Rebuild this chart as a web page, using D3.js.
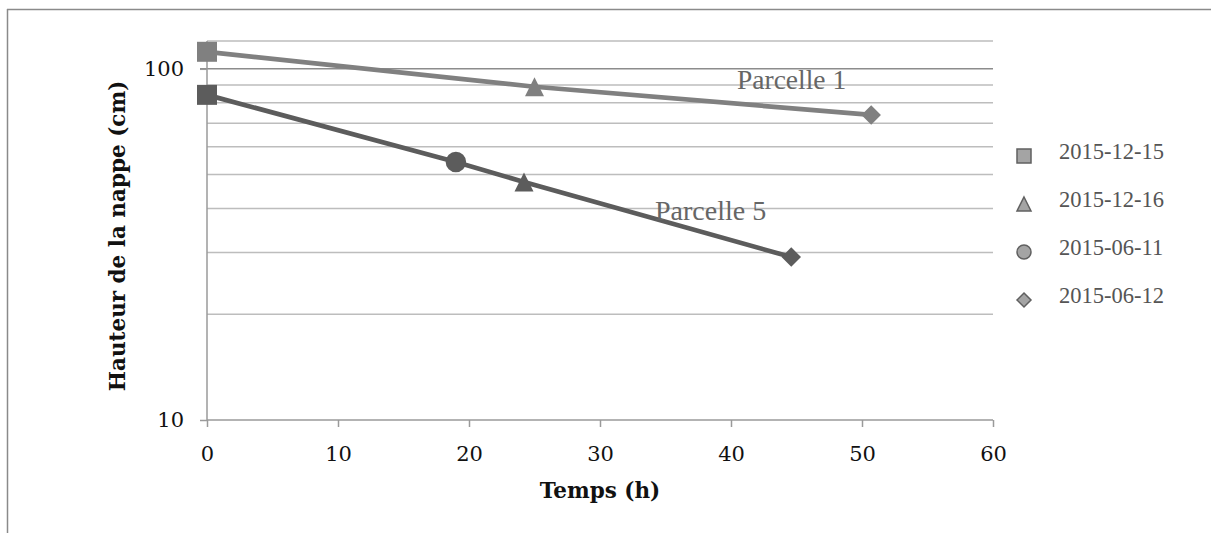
<!DOCTYPE html>
<html>
<head>
<meta charset="utf-8">
<script src="https://cdn.jsdelivr.net/npm/d3@7"></script>
<style>
  html, body { margin: 0; padding: 0; background: #fff; }
  svg { display: block; }
</style>
</head>
<body>
<svg id="chart" width="1211" height="533"></svg>
<script>
// ---- Data ----
const legendDates = ["2015-12-15", "2015-12-16", "2015-06-11", "2015-06-12"];
const legendSymbols = ["square", "triangle", "circle", "diamond"];

const p1Time = [0, 25.0, 50.7];
const p1Height = [111.8, 88.9, 73.9];
const p1Dates = ["2015-12-15", "2015-12-16", "2015-06-12"];

const p5Time = [0, 19.0, 24.2, 44.6];
const p5Height = [84.3, 54.3, 47.6, 29.1];
const p5Dates = ["2015-12-15", "2015-06-11", "2015-12-16", "2015-06-12"];

const xTicks = [0, 10, 20, 30, 40, 50, 60];
const yTickLabels = [10, 100];
const yMinorGrid = [20, 30, 40, 50, 60, 70, 80, 90, 120];
const yMajorGrid = [100];

const seriesNames = ["Parcelle 1", "Parcelle 5"];

// ---- Setup ----
const svg = d3.select("#chart");
const x = d3.scaleLinear().domain([0, 60]).range([207, 993]);
const y = d3.scaleLog().domain([10, 120]).range([420, 41]);

// symbol path builders, each centered on its bounding box
function symbolPath(type, s) {
  if (type === "square") return d3.symbol(d3.symbolSquare, s * s)();
  if (type === "circle") return d3.symbol(d3.symbolCircle, Math.PI * (s / 2) * (s / 2))();
  if (type === "diamond") {
    const h = s / 2;
    return `M0,${-h}L${h},0L0,${h}L${-h},0Z`;
  }
  // triangle, bbox centered
  const h = s, w = s;
  return `M0,${-h / 2}L${w / 2},${h / 2}L${-w / 2},${h / 2}Z`;
}
const markSize = { square: 20, triangle: 19, circle: 20.5, diamond: 19.5 };
const legSize = { square: 14, triangle: 14, circle: 14, diamond: 14 };
const dateSym = {};
legendDates.forEach((d, i) => dateSym[d] = legendSymbols[i]);

// Outer frame (top and left)
svg.append("line").attr("x1", 7).attr("x2", 1211).attr("y1", 9.5).attr("y2", 9.5)
  .attr("stroke", "#8a8a8a").attr("stroke-width", 1.5);
svg.append("line").attr("x1", 7.5).attr("x2", 7.5).attr("y1", 9).attr("y2", 533)
  .attr("stroke", "#8a8a8a").attr("stroke-width", 1.5);

// Gridlines
svg.append("g").selectAll("line").data(yMinorGrid).join("line")
  .attr("x1", x(0)).attr("x2", x(60))
  .attr("y1", d => y(d)).attr("y2", d => y(d))
  .attr("stroke", "#bdbdbd").attr("stroke-width", 1.5);
svg.append("g").selectAll("line").data(yMajorGrid).join("line")
  .attr("x1", x(0) - 7).attr("x2", x(60))
  .attr("y1", d => y(d)).attr("y2", d => y(d))
  .attr("stroke", "#8c8c8c").attr("stroke-width", 1.5);

const tickFont = "'DejaVu Serif', serif";

// Y axis
const yAxis = d3.axisLeft(y).tickValues(yTickLabels).tickFormat(d3.format("d")).tickSize(7).tickPadding(16);
const gy = svg.append("g").attr("transform", `translate(${x(0)},0)`).call(yAxis);
gy.select(".domain").attr("stroke", "#9a9a9a").attr("stroke-width", 1.5).attr("d", `M0,${y(120)}V${y(10)}`);
gy.selectAll(".tick line").attr("stroke", "#9a9a9a").attr("stroke-width", 1.5);
gy.selectAll(".tick text").attr("font-family", tickFont).attr("font-size", 21).attr("fill", "#111");

// X axis
const xAxis = d3.axisBottom(x).tickValues(xTicks).tickFormat(d3.format("d")).tickSize(7).tickPadding(19);
const gx = svg.append("g").attr("transform", `translate(0,${y(10)})`).call(xAxis);
gx.select(".domain").attr("stroke", "#9a9a9a").attr("stroke-width", 1.5).attr("d", `M${x(0)},0H${x(60)}`);
gx.selectAll(".tick line").attr("stroke", "#9a9a9a").attr("stroke-width", 1.5);
gx.selectAll(".tick text").attr("font-family", tickFont).attr("font-size", 21).attr("fill", "#111");

// Axis titles
svg.append("text").attr("x", 600).attr("y", 498).attr("text-anchor", "middle")
  .attr("font-family", tickFont).attr("font-weight", "bold").attr("font-size", 21.5)
  .attr("fill", "#111").text("Temps (h)");
svg.append("text").attr("transform", "translate(125,236) rotate(-90)").attr("text-anchor", "middle")
  .attr("font-family", tickFont).attr("font-weight", "bold").attr("font-size", 21.5)
  .attr("fill", "#111").text("Hauteur de la nappe (cm)");

// Series
const series = [
  { name: seriesNames[0], t: p1Time, h: p1Height, d: p1Dates, color: "#808080" },
  { name: seriesNames[1], t: p5Time, h: p5Height, d: p5Dates, color: "#5c5c5c" }
];
const line = d3.line().x(p => x(p[0])).y(p => y(p[1]));
series.forEach(s => {
  const pts = s.t.map((t, i) => [t, s.h[i], s.d[i]]);
  svg.append("path").datum(pts).attr("d", line).attr("fill", "none")
    .attr("stroke", s.color).attr("stroke-width", 4.7).attr("stroke-linejoin", "round");
  svg.append("g").selectAll("path").data(pts).join("path")
    .attr("transform", p => `translate(${x(p[0])},${y(p[1])})`)
    .attr("d", p => symbolPath(dateSym[p[2]], markSize[dateSym[p[2]]]))
    .attr("fill", s.color);
});

// Series labels
svg.append("text").attr("x", 737).attr("y", 89)
  .attr("font-family", "'Liberation Serif', serif").attr("font-size", 27.5).attr("fill", "#666").text(seriesNames[0]);
svg.append("text").attr("x", 655).attr("y", 220)
  .attr("font-family", "'Liberation Serif', serif").attr("font-size", 28).attr("fill", "#666").text(seriesNames[1]);

// Legend
const leg = svg.append("g");
const legY = [156, 204, 252, 300];
legendDates.forEach((d, i) => {
  const s = legendSymbols[i];
  leg.append("path")
    .attr("transform", `translate(1024,${legY[i]})`)
    .attr("d", symbolPath(s, legSize[s]))
    .attr("fill", "#a4a4a4").attr("stroke", "#606060").attr("stroke-width", 1.5);
  leg.append("text").attr("x", 1059).attr("y", legY[i] + 3)
    .attr("font-family", "'Liberation Serif', serif").attr("font-size", 22.5).attr("fill", "#555")
    .text(d);
});
</script>
</body>
</html>
